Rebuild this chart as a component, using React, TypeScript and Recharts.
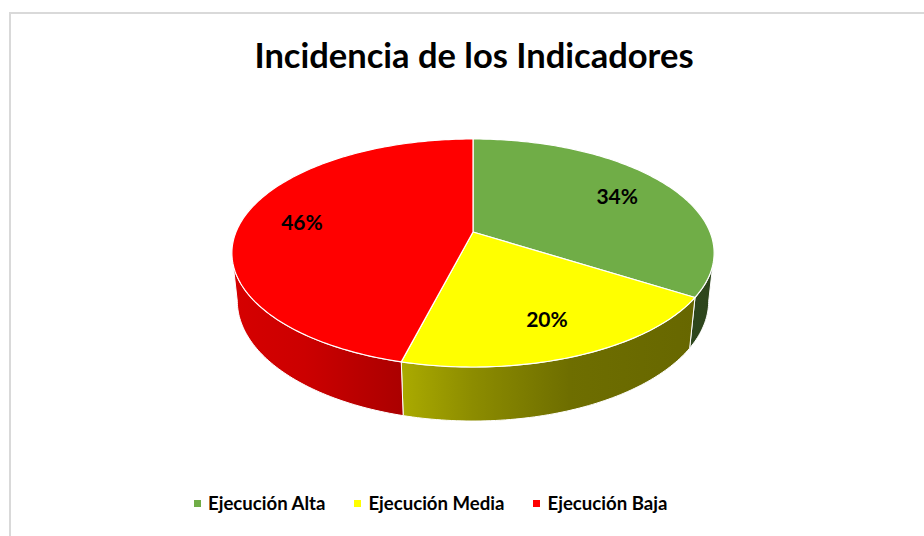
import { PieChart, Pie, Cell, Legend } from "recharts";

const RADIAN = Math.PI / 180;

const categories = ["Ejecución Alta", "Ejecución Media", "Ejecución Baja"];
const shares = [34, 20, 46];
const sliceColors = ["#70ad47", "#ffff00", "#ff0000"];

const data = categories.map((name, i) => ({ name, value: shares[i] }));

// vista 3D: elevación del ojo, distancia del ojo (en radios), grosor (en radios)
const TILT = 27.7 * RADIAN;
const EYE = 4.81;
const THICK = 0.23;
const SIL = Math.asin(Math.cos(TILT) / EYE) / RADIAN; // ángulo de la silueta

// luz sobre la pared lateral, de izquierda a derecha
const sideLight: [number, number][] = [
  [0, 0.84],
  [0.15, 0.8],
  [0.35, 0.67],
  [0.5, 0.55],
  [0.7, 0.43],
  [1, 0.4],
];

const project = (cx: number, cy: number, r: number, deg: number, rho: number, z: number) => {
  const a = deg * RADIAN;
  const u = rho * Math.cos(a);
  const v = rho * Math.sin(a);
  const d = 1 + (v * Math.cos(TILT) - z * Math.sin(TILT)) / EYE;
  return [cx + (r * u) / d, cy - (r * (v * Math.sin(TILT) + z * Math.cos(TILT))) / d];
};

const arc = (cx: number, cy: number, r: number, from: number, to: number, z: number) => {
  const pts: number[][] = [];
  const n = Math.max(2, Math.ceil(Math.abs(to - from)));
  for (let i = 0; i <= n; i++) pts.push(project(cx, cy, r, from + ((to - from) * i) / n, 1, z));
  return pts;
};

const toPath = (pts: number[][]) =>
  "M" + pts.map((p) => `${p[0].toFixed(2)},${p[1].toFixed(2)}`).join("L") + "Z";

const shade = (hex: string, f: number) => {
  const n = parseInt(hex.slice(1), 16);
  const r = Math.round(((n >> 16) & 255) * f);
  const g = Math.round(((n >> 8) & 255) * f);
  const b = Math.round((n & 255) * f);
  return `rgb(${r},${g},${b})`;
};

// cada porción: pared lateral, cara superior y porcentaje
const renderSlice = (props: any) => {
  const { cx, cy, outerRadius, startAngle, endAngle, midAngle, percent, index } = props;
  const color = sliceColors[index];
  const hi = Math.max(startAngle, endAngle);
  const lo = Math.min(startAngle, endAngle);
  const from = Math.max(lo, -180 + SIL);
  const to = Math.min(hi, -SIL);
  const halfW = outerRadius / Math.sqrt(1 - Math.pow(Math.cos(TILT) / EYE, 2));

  let side = null;
  if (to > from) {
    const pts = [...arc(cx, cy, outerRadius, from, to, 0), ...arc(cx, cy, outerRadius, to, from, -THICK)];
    side = <path d={toPath(pts)} fill={`url(#side-${index})`} stroke="#ffffff" strokeWidth={1} />;
  }
  const center = project(cx, cy, outerRadius, 0, 0, 0);
  const top = [center, ...arc(cx, cy, outerRadius, startAngle, endAngle, 0)];
  const [lx, ly] = project(cx, cy, outerRadius, midAngle, 0.74, 0);

  return (
    <g key={`slice-${index}`}>
      <defs>
        <linearGradient id={`side-${index}`} gradientUnits="userSpaceOnUse" x1={cx - halfW} x2={cx + halfW} y1={0} y2={0}>
          {sideLight.map(([o, f]) => (
            <stop key={o} offset={o} stopColor={shade(color, f)} />
          ))}
        </linearGradient>
      </defs>
      {side}
      <path d={toPath(top)} fill={color} stroke="#ffffff" strokeWidth={1.2} strokeLinejoin="round" />
      <text
        x={lx}
        y={ly}
        textAnchor="middle"
        dominantBaseline="central"
        fontFamily="Lato, sans-serif"
        fontWeight="bold"
        fontSize={21}
        fill="#000000"
      >
        {`${Math.round(percent * 100)}%`}
      </text>
    </g>
  );
};

const renderLegend = (props: any) => {
  const items = [...(props.payload || [])].sort(
    (a: any, b: any) => categories.indexOf(a.value) - categories.indexOf(b.value)
  );
  return (
    <div style={{ display: "flex", alignItems: "center", paddingLeft: 194 }}>
      {items.map((entry: any, i: number) => (
        <div key={`leg-${i}`} style={{ display: "flex", alignItems: "center", marginRight: 29 }}>
          <span style={{ display: "inline-block", width: 7, height: 7, background: entry.color, marginRight: 7 }} />
          <span style={{ fontFamily: "Lato, sans-serif", fontWeight: "bold", fontSize: 18.6, color: "#000" }}>
            {entry.value}
          </span>
        </div>
      ))}
    </div>
  );
};

export default function App() {
  return (
    <div
      style={{
        position: "absolute",
        left: 0,
        top: 0,
        width: 924,
        height: 536,
        overflow: "hidden",
        background: "#ffffff",
      }}
    >
      <div
        style={{
          position: "absolute",
          left: 9,
          top: 12,
          width: 980,
          height: 600,
          border: "2px solid #d9d9d9",
          boxSizing: "border-box",
        }}
      />
      <svg width={924} height={100} style={{ position: "absolute", left: 0, top: 0 }}>
        <text
          x={474}
          y={68}
          textAnchor="middle"
          fontFamily="Lato, sans-serif"
          fontWeight="bold"
          fontSize={34.5}
          fill="#000000"
        >
          Incidencia de los Indicadores
        </text>
      </svg>
      <div style={{ position: "absolute", left: 0, top: 0 }}>
        <PieChart width={924} height={536} margin={{ top: 0, right: 0, bottom: 0, left: 0 }}>
          <Pie
            data={data}
            dataKey="value"
            nameKey="name"
            cx={473}
            cy={232}
            outerRadius={237}
            startAngle={90}
            endAngle={-270}
            fillOpacity={0}
            stroke="none"
            label={renderSlice}
            labelLine={false}
            isAnimationActive={false}
          >
            {data.map((entry, i) => (
              <Cell key={`cell-${entry.name}`} fill={sliceColors[i]} fillOpacity={0} />
            ))}
          </Pie>
          <Legend content={renderLegend} wrapperStyle={{ top: 492, left: 0, bottom: "auto", width: 924 }} />
        </PieChart>
      </div>
    </div>
  );
}
